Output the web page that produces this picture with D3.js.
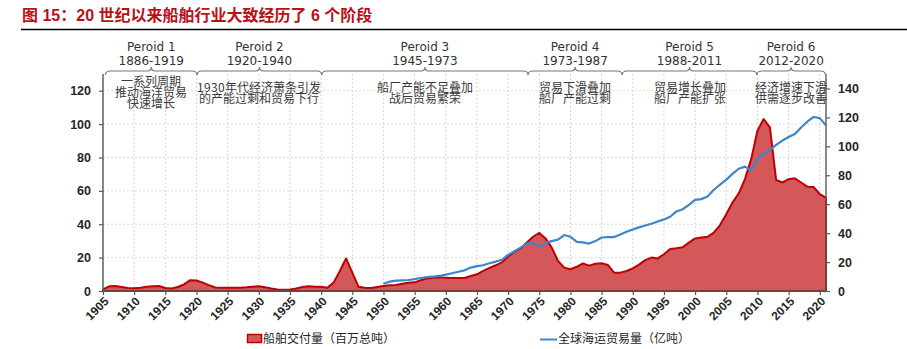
<!DOCTYPE html>
<html>
<head>
<meta charset="utf-8">
<script src="https://cdn.jsdelivr.net/npm/d3@7"></script>
<style>
  html, body { margin: 0; padding: 0; background: #fff; }
  svg { display: block; }
  @font-face {
    font-family: "CJKTight";
    src: local("Noto Sans CJK SC"), local("Noto Sans CJK SC Regular"), local("NotoSansCJKsc-Regular");
    ascent-override: 82%;
    descent-override: 8%;
    line-gap-override: 0%;
  }
</style>
</head>
<body>
<svg id="chart" width="907" height="349"></svg>
<script>
// ---------- data ----------
const titleText = "图 15：20 世纪以来船舶行业大致经历了 6 个阶段";

const deliveryYears = d3.range(1905, 2022);
const deliveryValues = [
  1.0, 2.8, 3.0, 2.4, 1.8, 1.6, 2.0, 2.6, 2.9, 3.0,      // 1905-1914
  1.8, 1.5, 2.4, 4.0, 6.5, 6.3, 5.0, 3.5, 2.1, 2.0,      // 1915-1924
  2.0, 1.9, 1.9, 2.2, 2.6, 2.8, 2.2, 1.5, 0.9, 0.8,      // 1925-1934
  0.9, 1.5, 2.4, 2.8, 2.6, 2.5, 2.0, 5.0, 12.0, 19.5,    // 1935-1944
  11.0, 2.5, 2.0, 1.8, 2.4, 3.0, 3.4, 3.6, 4.4, 5.0,     // 1945-1954
  5.2, 6.5, 7.5, 8.0, 8.2, 8.0, 7.8, 7.8, 7.8, 9.0,      // 1955-1964
  10.0, 12.0, 13.8, 15.4, 17.2, 20.5, 23.5, 25.5, 29.0, 32.5, // 1965-1974
  34.8, 31.5, 26.0, 18.0, 14.0, 13.0, 14.5, 16.5, 15.2, 16.3, // 1975-1984
  16.6, 15.6, 11.0, 11.0, 12.0, 13.5, 15.8, 18.5, 20.0, 19.5, // 1985-1994
  22.0, 25.2, 25.6, 26.2, 29.0, 31.5, 32.0, 32.5, 35.0, 39.5, // 1995-2004
  46.0, 53.0, 58.5, 67.0, 79.0, 96.0, 103.0, 98.0, 66.5, 65.0, // 2005-2014
  67.0, 67.5, 65.0, 62.5, 62.3, 58.0, 56.0                // 2015-2021
];

const tradeYears = d3.range(1950, 2022);
const tradeValues = [
  5.0, 6.5, 7.2, 7.4, 7.6, 8.2, 9.0, 9.6, 10.0, 10.4,    // 1950-1959
  11.3, 12.3, 13.3, 14.3, 16.2, 17.2, 17.8, 19.2, 20.3, 21.6, // 1960-1969
  25.0, 27.5, 30.0, 32.8, 33.4, 30.5, 33.3, 34.5, 35.5, 38.7, // 1970-1979
  37.5, 34.0, 33.6, 32.8, 34.5, 37.0, 37.3, 37.3, 39.0, 41.0, // 1980-1989
  42.5, 44.0, 45.3, 46.5, 48.0, 49.5, 51.3, 55.0, 56.5, 59.5, // 1990-1999
  63.0, 63.5, 65.3, 70.0, 73.5, 77.0, 81.0, 84.5, 86.0, 83.2, // 2000-2009
  91.5, 95.0, 97.5, 101.0, 104.0, 106.5, 108.5, 113.0, 117.0, 120.3, // 2010-2019
  119.5, 114.5                                            // 2020-2021
];

const xTickYears = d3.range(1905, 2021, 5);
const leftTicks = [0, 20, 40, 60, 80, 100, 120];
const rightTicks = [0, 20, 40, 60, 80, 100, 120, 140];

const periodNames = ["Peroid 1", "Peroid 2", "Peroid 3", "Peroid 4", "Peroid 5", "Peroid 6"];
const periodRanges = ["1886-1919", "1920-1940", "1945-1973", "1973-1987", "1988-2011", "2012-2020"];
const periodStart = [1905.4, 1920.1, 1940.1, 1973.2, 1988.3, 2009.9];
const periodEnd   = [1920.1, 1940.1, 1973.2, 1988.3, 2009.9, 2020.9];
const periodNotes = [
  ["一系列周期", "推动海洋贸易", "快速增长"],
  ["1930年代经济萧条引发", "的产能过剩和贸易下行"],
  ["船厂产能不足叠加", "战后贸易繁荣"],
  ["贸易下滑叠加", "船厂产能过剩"],
  ["贸易增长叠加", "船厂产能扩张"],
  ["经济增速下滑", "供需逐步改善"]
];

const legendLabels = ["船舶交付量（百万总吨）", "全球海运贸易量（亿吨）"];

// ---------- drawing ----------
const svg = d3.select("#chart");
const RED_FILL = "#d4575a";
const RED_LINE = "#c00000";
const BLUE = "#3d86c9";
const AXIS = "#595959";
const latin = "'Liberation Sans', Arial, 'Noto Sans CJK SC', sans-serif";
const cjk = "'Noto Sans CJK SC', 'Noto Sans', sans-serif";
const cjkTight = "CJKTight, 'Noto Sans CJK SC', sans-serif";

const plotL = 103, plotR = 826, plotT = 74, plotB = 291;

const x = d3.scaleLinear().domain([1905, 2021]).range([plotL, plotR]);
const yL = d3.scaleLinear().domain([0, 130]).range([plotB, plotT]);
const yR = d3.scaleLinear().domain([0, 150]).range([plotB, plotT]);

function draw() {
// title
svg.append("text")
  .attr("x", 22).attr("y", 20.5)
  .attr("font-family", latin)
  .attr("font-weight", "bold")
  .attr("font-size", 16)
  .attr("fill", "#bc0f18")
  .text(titleText);
svg.append("line")
  .attr("x1", 21).attr("x2", 907).attr("y1", 29.5).attr("y2", 29.5)
  .attr("stroke", "#000").attr("stroke-width", 1.6);

// grid
const grid = svg.append("g");
grid.selectAll("line.v").data(xTickYears).join("line")
  .attr("x1", d => x(d)).attr("x2", d => x(d))
  .attr("y1", plotT).attr("y2", plotB)
  .attr("stroke", "#d4d4d4").attr("stroke-width", 1).attr("stroke-dasharray", "2,2");
grid.selectAll("line.h").data(leftTicks.slice(1)).join("line")
  .attr("x1", plotL).attr("x2", plotR)
  .attr("y1", d => yL(d)).attr("y2", d => yL(d))
  .attr("stroke", "#dcdcdc").attr("stroke-width", 1).attr("stroke-dasharray", "2,2");

// red area
const redData = deliveryYears.map((yr, i) => ({ yr, v: deliveryValues[i] }));
const area = d3.area().x(d => x(d.yr)).y0(yL(0)).y1(d => yL(d.v));
svg.append("path")
  .datum(redData)
  .attr("d", area)
  .attr("fill", RED_FILL)
  .attr("stroke", RED_LINE)
  .attr("stroke-width", 2)
  .attr("stroke-linejoin", "round");

// blue line
const blueData = tradeYears.map((yr, i) => ({ yr, v: tradeValues[i] }));
svg.append("path")
  .datum(blueData)
  .attr("d", d3.line().x(d => x(d.yr)).y(d => yR(d.v)))
  .attr("fill", "none")
  .attr("stroke", BLUE)
  .attr("stroke-width", 2.2)
  .attr("stroke-linejoin", "round");

// axes
function styleAxis(g) {
  g.select(".domain").attr("stroke", AXIS).attr("stroke-width", 1.4);
  g.selectAll(".tick line").attr("stroke", AXIS).attr("stroke-width", 1.2);
  g.selectAll("text")
    .attr("font-family", latin)
    .attr("font-weight", "bold")
    .attr("font-size", 12.5)
    .attr("fill", "#262626");
}
const gL = svg.append("g").attr("transform", `translate(${plotL},0)`)
  .call(d3.axisLeft(yL).tickValues(leftTicks).tickSize(4).tickPadding(8).tickSizeOuter(0));
gL.select(".domain").attr("d", `M0,${plotT}V${plotB}`);
styleAxis(gL);

const gR = svg.append("g").attr("transform", `translate(${plotR},0)`)
  .call(d3.axisRight(yR).tickValues(rightTicks).tickSize(4).tickPadding(8).tickSizeOuter(0));
gR.select(".domain").attr("d", `M0,${plotT}V${plotB}`);
styleAxis(gR);

const gB = svg.append("g").attr("transform", `translate(0,${plotB})`)
  .call(d3.axisBottom(x).tickValues(xTickYears).tickFormat(d3.format("d")).tickSize(4).tickSizeOuter(0));
gB.select(".domain").attr("d", `M${plotL},0H${plotR}`);
styleAxis(gB);
gB.selectAll(".tick text")
  .attr("x", 0).attr("y", 0).attr("dy", 0)
  .attr("font-size", 12)
  .attr("text-anchor", "end")
  .attr("transform", "translate(6,11) rotate(-45)");

// period braces & labels
const braces = svg.append("g");
periodNames.forEach((name, i) => {
  const x1 = x(periodStart[i]), x2 = x(periodEnd[i]);
  const c = (x1 + x2) / 2;
  const yb = 71;
  braces.append("path")
    .attr("d", `M${x1},75 Q${x1},${yb} ${x1 + 5},${yb} L${c - 4},${yb} Q${c},${yb} ${c},${yb - 4} Q${c},${yb} ${c + 4},${yb} L${x2 - 5},${yb} Q${x2},${yb} ${x2},75`)
    .attr("fill", "none").attr("stroke", "#777").attr("stroke-width", 1.1);

  braces.append("text")
    .attr("x", c).attr("y", 50.5)
    .attr("text-anchor", "middle")
    .attr("font-family", "'DejaVu Sans', sans-serif")
    .attr("font-size", 12)
    .attr("fill", "#333")
    .text(name);
  braces.append("text")
    .attr("x", c).attr("y", 65)
    .attr("text-anchor", "middle")
    .attr("font-family", "'DejaVu Sans', sans-serif")
    .attr("font-size", 12)
    .attr("fill", "#333")
    .text(periodRanges[i]);

  const lines = periodNotes[i];
  const n = lines.length;
  lines.forEach((t, j) => {
    braces.append("text")
      .attr("x", c)
      .attr("y", 93 + (j - (n - 1) / 2) * 11)
      .attr("dy", "0.36em")
      .attr("text-anchor", "middle")
      .attr("font-family", cjkTight)
      .attr("font-size", 12)
      .attr("fill", "#3a3a3a")
      .text(t);
  });
});

// legend
const lg = svg.append("g");
lg.append("rect")
  .attr("x", 247.5).attr("y", 334.5).attr("width", 14).attr("height", 8)
  .attr("fill", RED_FILL).attr("stroke", RED_LINE).attr("stroke-width", 1.5);
lg.append("text")
  .attr("x", 263).attr("y", 339).attr("dy", "0.36em")
  .attr("font-family", cjk).attr("font-size", 12).attr("fill", "#262626")
  .text(legendLabels[0]);
lg.append("line")
  .attr("x1", 540).attr("x2", 557).attr("y1", 339.5).attr("y2", 339.5)
  .attr("stroke", BLUE).attr("stroke-width", 2);
lg.append("text")
  .attr("x", 558).attr("y", 339).attr("dy", "0.36em")
  .attr("font-family", cjk).attr("font-size", 12).attr("fill", "#262626")
  .text(legendLabels[1]);
}
draw();
</script>
</body>
</html>
